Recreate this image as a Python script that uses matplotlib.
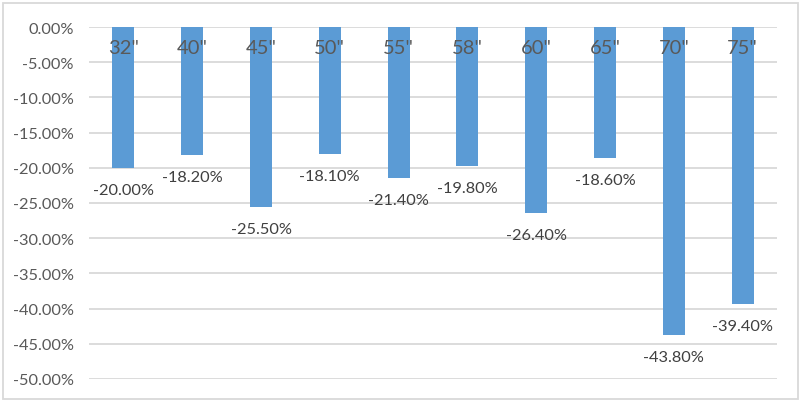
import matplotlib.pyplot as plt
from matplotlib.patches import Rectangle

# screen sizes
sizes = ['32"', '40"', '45"', '50"', '55"', '58"', '60"', '65"', '70"', '75"']
change = [-20.0, -18.2, -25.5, -18.1, -21.4, -19.8, -26.4, -18.6, -43.8, -39.4]
yticks = [0, -5, -10, -15, -20, -25, -30, -35, -40, -45, -50]

plt.rcParams['font.family'] = ['Lato', 'DejaVu Sans']

fig = plt.figure(figsize=(8.02, 4.02), dpi=100)
ax = fig.add_axes([89 / 802, 1 - 380 / 402, 688 / 802, 352 / 402])

x = range(len(sizes))
ax.bar(x, change, width=0.32, color="#5B9BD5", zorder=3)

ax.set_xlim(-0.5, len(sizes) - 0.5)
ax.set_ylim(-50, 0)
ax.set_yticks(yticks)
ax.set_yticklabels(["%.2f%%" % v for v in yticks], color="#595959", fontsize=11.8)
ax.tick_params(axis="y", length=0, pad=11)
ax.set_xticks([])
ax.grid(axis="y", color="#D9D9D9", linewidth=1.3, zorder=0)
for s in ax.spines.values():
    s.set_visible(False)
ax.set_axisbelow(True)

# category labels sit just under the zero line
for i, name in enumerate(sizes):
    ax.text(i, -2.85, name, ha="center", va="center", fontsize=14.5,
            color="#595959", zorder=4)

# value labels under each bar
for i, v in enumerate(change):
    ax.annotate("%.2f%%" % v, (i, v), xytext=(0, -22), textcoords="offset pixels",
                ha="center", va="center", fontsize=11.8, color="#404040")

# light chart border
fig.patches.append(Rectangle((3 / 802, 2 / 402), 795 / 802, 396 / 402,
                             transform=fig.transFigure, fill=False,
                             edgecolor="#D9D9D9", linewidth=1.3))

plt.savefig("out.png", dpi=100)
